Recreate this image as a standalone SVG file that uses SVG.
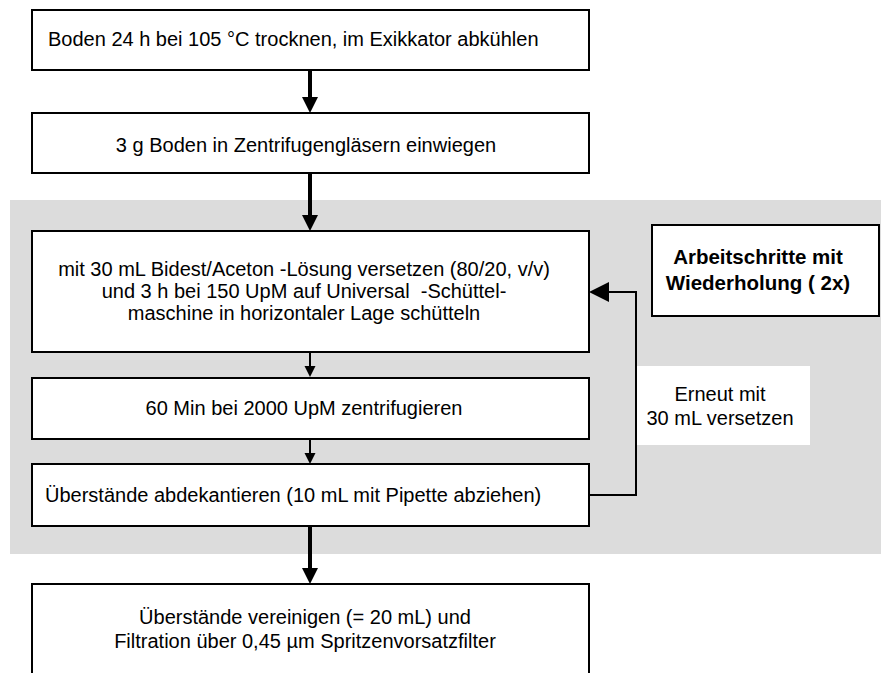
<svg xmlns="http://www.w3.org/2000/svg" width="881" height="673" viewBox="0 0 881 673">
  <style>
    .box { fill: #ffffff; stroke: #000000; stroke-width: 2; }
    .t { font-family: "Liberation Sans", Arial, sans-serif; font-size: 20px; fill: #000000; }
    .c { text-anchor: middle; }
    .b { font-weight: bold; font-size: 20.5px; }
    .thick { stroke: #000000; stroke-width: 4; fill: none; }
    .thin { stroke: #000000; stroke-width: 2; fill: none; }
    .head { fill: #000000; }
  </style>

  <!-- shaded area for the repeated steps -->
  <rect id="repeat-area" x="10" y="200" width="871" height="354" fill="#dcdcdc"/>

  <g id="connectors">
    <!-- dry soil -> weigh in -->
    <line class="thick" x1="310" y1="70" x2="310" y2="97"/>
    <polygon class="head" points="302,97 318,97 310,113"/>
    <!-- weigh in -> add solution -->
    <line class="thick" x1="310" y1="173" x2="310" y2="215"/>
    <polygon class="head" points="302,215 318,215 310,231"/>
    <!-- shake -> centrifuge -->
    <line class="thin" x1="310" y1="352" x2="310" y2="367"/>
    <polygon class="head" points="304.5,366 315.5,366 310,377"/>
    <!-- centrifuge -> decant -->
    <line class="thin" x1="310" y1="439" x2="310" y2="454"/>
    <polygon class="head" points="304.5,453 315.5,453 310,464"/>
    <!-- decant -> combine and filter -->
    <line class="thick" x1="310" y1="526" x2="310" y2="568"/>
    <polygon class="head" points="302,568 318,568 310,584"/>
  </g>

  <!-- repeat label -->
  <g id="repeat-label">
    <rect x="637" y="366" width="173" height="79" fill="#ffffff"/>
    <text class="t c" x="720" y="401">Erneut mit</text>
    <text class="t c" x="720" y="425">30 mL versetzen</text>
  </g>

  <g id="loop-connector">
    <polyline class="thin" points="589,495 636,495 636,292 608,292"/>
    <polygon class="head" points="589,292 609,282 609,302"/>
  </g>

  <g id="node-dry">
    <rect class="box" x="32" y="10" width="557" height="60"/>
    <text class="t" x="48" y="46">Boden 24 h bei 105 °C trocknen, im Exikkator abkühlen</text>
  </g>

  <g id="node-weigh">
    <rect class="box" x="32" y="113" width="557" height="60"/>
    <text class="t c" x="306" y="152">3 g Boden in Zentrifugengläsern einwiegen</text>
  </g>

  <g id="node-shake">
    <rect class="box" x="32" y="231" width="557" height="121"/>
    <text class="t c" x="304" y="276" xml:space="preserve">mit 30 mL Bidest/Aceton -Lösung versetzen (80/20, v/v)</text>
    <text class="t c" x="304" y="298" xml:space="preserve">und 3 h bei 150 UpM auf Universal  -Schüttel-</text>
    <text class="t c" x="304" y="320">maschine in horizontaler Lage schütteln</text>
  </g>

  <g id="node-note">
    <rect class="box" x="652" y="225" width="227" height="91"/>
    <text class="t c b" x="758" y="264">Arbeitschritte mit</text>
    <text class="t c b" x="758" y="290">Wiederholung ( 2x)</text>
  </g>

  <g id="node-centrifuge">
    <rect class="box" x="32" y="378" width="557" height="61"/>
    <text class="t c" x="304" y="415">60 Min bei 2000 UpM zentrifugieren</text>
  </g>

  <g id="node-decant">
    <rect class="box" x="32" y="464" width="557" height="62"/>
    <text class="t" x="45" y="502">Überstände abdekantieren (10 mL mit Pipette abziehen)</text>
  </g>

  <g id="node-filter">
    <rect class="box" x="32" y="584" width="557" height="100"/>
    <text class="t c" x="305" y="624">Überstände vereinigen (= 20 mL) und</text>
    <text class="t c" x="305" y="648">Filtration über 0,45 µm Spritzenvorsatzfilter</text>
  </g>
</svg>
